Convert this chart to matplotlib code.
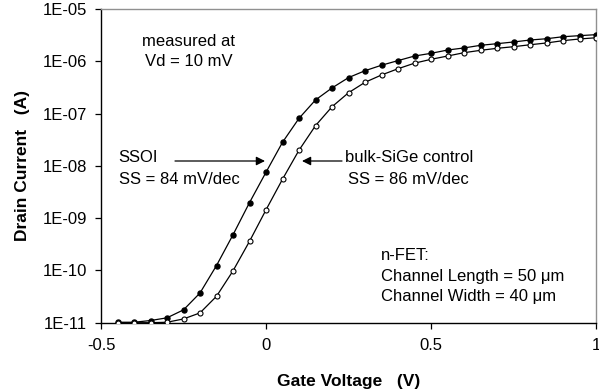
import matplotlib
matplotlib.use("Agg")
import matplotlib.pyplot as plt
import numpy as np

plt.rcParams['font.family'] = ['Liberation Sans', 'DejaVu Sans']

gate_voltage = [-0.45, -0.40, -0.35, -0.30, -0.25, -0.20, -0.15, -0.10, -0.05, 0.00,
                0.05, 0.10, 0.15, 0.20, 0.25, 0.30, 0.35, 0.40, 0.45, 0.50,
                0.55, 0.60, 0.65, 0.70, 0.75, 0.80, 0.85, 0.90, 0.95, 1.00]

ssoi_current = [1.02e-11, 1.02e-11, 1.1e-11, 1.24e-11, 1.76e-11, 3.7e-11, 1.24e-10, 4.8e-10, 1.98e-9, 7.55e-9,
                2.82e-8, 8.1e-8, 1.82e-7, 3.09e-7, 4.87e-7, 6.6e-7, 8.4e-7, 1.03e-6, 1.26e-6, 1.42e-6,
                1.64e-6, 1.8e-6, 2.02e-6, 2.17e-6, 2.34e-6, 2.55e-6, 2.7e-6, 2.95e-6, 3.09e-6, 3.23e-6]

bulk_current = [1.0e-11, 1.0e-11, 1.0e-11, 1.02e-11, 1.18e-11, 1.54e-11, 3.2e-11, 9.8e-11, 3.6e-10, 1.44e-9,
                5.55e-9, 1.99e-8, 5.87e-8, 1.35e-7, 2.5e-7, 3.96e-7, 5.47e-7, 7.2e-7, 9.2e-7, 1.09e-6,
                1.26e-6, 1.46e-6, 1.62e-6, 1.77e-6, 1.9e-6, 2.07e-6, 2.24e-6, 2.48e-6, 2.67e-6, 2.82e-6]

x_ticks = [-0.5, 0, 0.5, 1]
x_tick_labels = ['-0.5', '0', '0.5', '1']
y_ticks = [1e-11, 1e-10, 1e-9, 1e-8, 1e-7, 1e-6, 1e-5]
y_tick_labels = ['1E-11', '1E-10', '1E-09', '1E-08', '1E-07', '1E-06', '1E-05']

W, H = 599, 391
fig = plt.figure(figsize=(W / 100, H / 100), dpi=100)
L, R, T, B = 101, 596, 9, 322.7
ax = fig.add_axes([L / W, 1 - B / H, (R - L) / W, (B - T) / H])

ax.plot(gate_voltage, ssoi_current, color='black', lw=0.9, marker='o', ms=3.6,
        mfc='black', mec='black', zorder=3)
ax.plot(gate_voltage, bulk_current, color='black', lw=0.9, marker='o', ms=3.6,
        mfc='white', mec='black', mew=0.8, zorder=3)

ax.set_yscale('log')
ax.set_xlim(-0.5, 1.0)
ax.set_ylim(1e-11, 1e-5)
ax.set_xticks(x_ticks)
ax.set_xticklabels(x_tick_labels)
ax.set_yticks(y_ticks)
ax.set_yticklabels(y_tick_labels)
ax.yaxis.set_minor_locator(matplotlib.ticker.NullLocator())
ax.tick_params(axis='both', direction='out', length=4, width=0.9, labelsize=12, colors='black')
ax.tick_params(axis='x', pad=7)
ax.tick_params(axis='y', pad=6)

for s in ['left', 'bottom']:
    ax.spines[s].set_color('black')
    ax.spines[s].set_linewidth(1.0)
for s in ['top', 'right']:
    ax.spines[s].set_color('#909090')
    ax.spines[s].set_linewidth(1.0)

ax.set_xlabel('Gate Voltage   (V)', fontsize=12.5, fontweight='bold', labelpad=15)
ax.set_ylabel('Drain Current   (A)', fontsize=12.5, fontweight='bold', labelpad=9)


def ax_xy(px, py):
    return ((px - L) / (R - L), (B - py) / (B - T))


fs = 12
ax.text(*ax_xy(189, 41), 'measured at', transform=ax.transAxes, ha='center', va='center', fontsize=fs)
ax.text(*ax_xy(189, 62), 'Vd = 10 mV', transform=ax.transAxes, ha='center', va='center', fontsize=fs)
ax.text(*ax_xy(118, 158), 'SSOI', transform=ax.transAxes, ha='left', va='center', fontsize=fs)
ax.text(*ax_xy(119, 180), 'SS = 84 mV/dec', transform=ax.transAxes, ha='left', va='center', fontsize=fs)
ax.text(*ax_xy(345, 158), 'bulk-SiGe control', transform=ax.transAxes, ha='left', va='center', fontsize=fs)
ax.text(*ax_xy(348, 180), 'SS = 86 mV/dec', transform=ax.transAxes, ha='left', va='center', fontsize=fs)
ax.text(*ax_xy(381, 255), 'n-FET:', transform=ax.transAxes, ha='left', va='center', fontsize=fs)
ax.text(*ax_xy(381, 276), 'Channel Length = 50 μm', transform=ax.transAxes, ha='left', va='center', fontsize=fs)
ax.text(*ax_xy(381, 297), 'Channel Width = 40 μm', transform=ax.transAxes, ha='left', va='center', fontsize=fs)

arrow_kw = dict(arrowstyle='-|>', color='black', lw=0.9, mutation_scale=13, shrinkA=0, shrinkB=0)
ax.annotate('', xy=ax_xy(265, 161), xytext=ax_xy(175, 161), xycoords='axes fraction',
            textcoords='axes fraction', arrowprops=arrow_kw)
ax.annotate('', xy=ax_xy(302, 161), xytext=ax_xy(342, 161), xycoords='axes fraction',
            textcoords='axes fraction', arrowprops=arrow_kw)

fig.savefig('out.png', dpi=100)
